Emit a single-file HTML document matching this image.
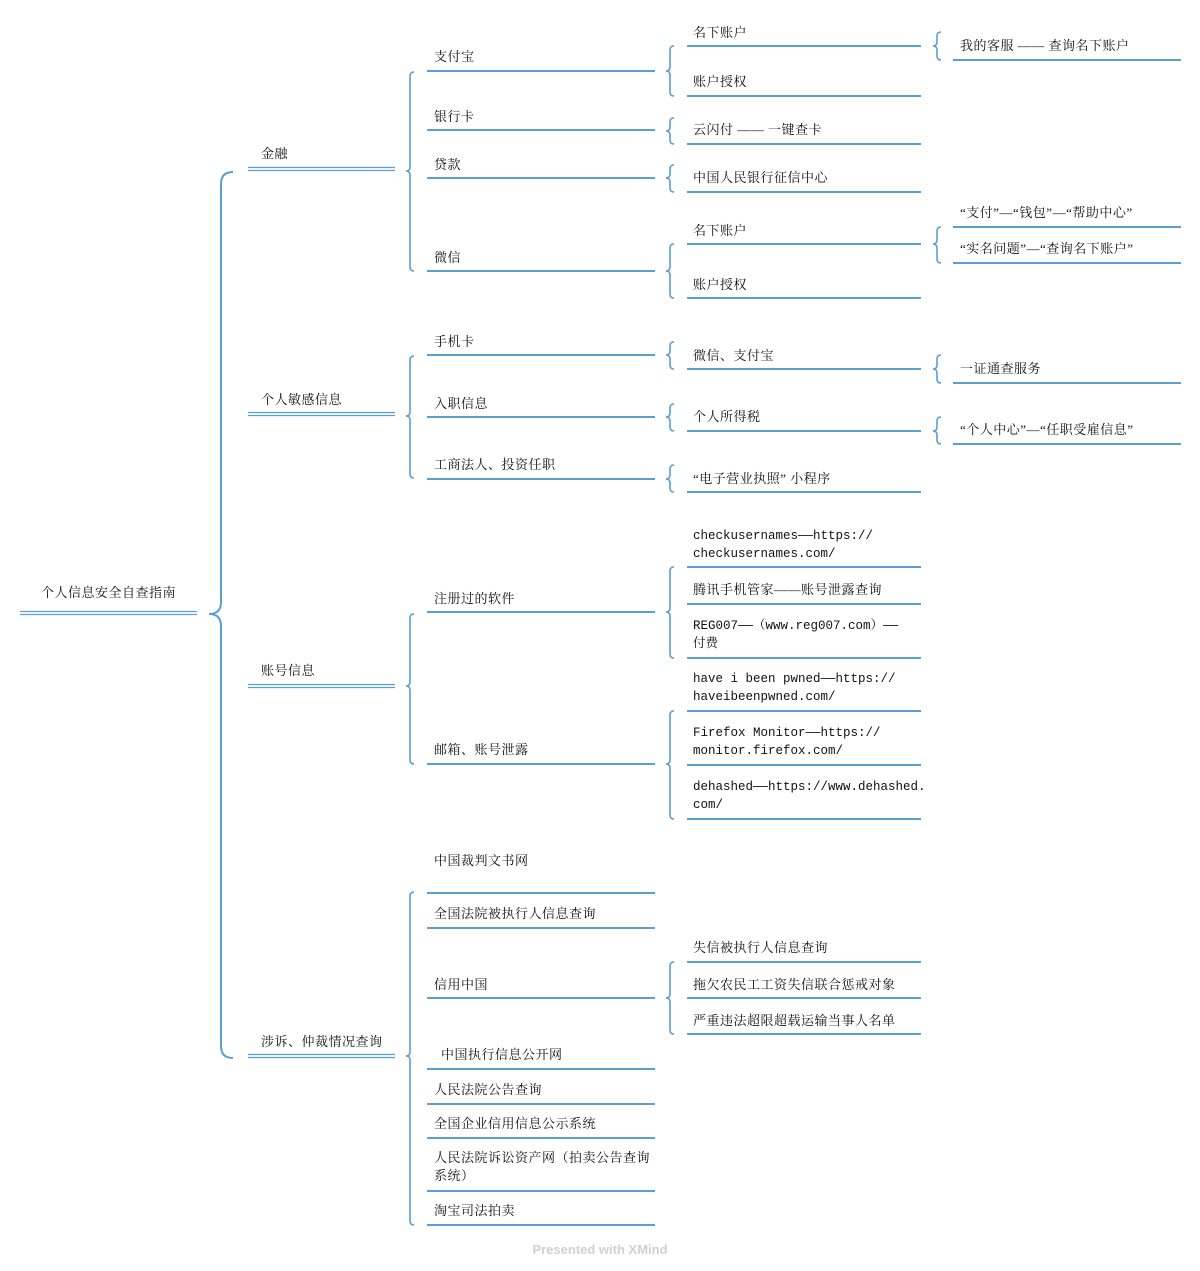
<!DOCTYPE html>
<html><head><meta charset="utf-8">
<style>
html,body{margin:0;padding:0;background:#fff;}
body{width:1200px;height:1271px;position:relative;overflow:hidden;font-family:"Liberation Serif","Noto Serif CJK SC",serif;font-size:13px;color:#111;}
.t{position:absolute;white-space:nowrap;letter-spacing:0.5px;line-height:18px;margin-top:1px;}
.m{font-family:"Liberation Mono","Noto Serif CJK SC",monospace;font-size:12.5px;letter-spacing:0;}
svg{position:absolute;left:0;top:0;}
.f{position:absolute;left:0;width:1200px;top:1242px;text-align:center;font-family:"Liberation Sans",sans-serif;font-size:13px;color:#d0d0d0;font-weight:bold;}
</style></head><body>
<svg id="s" width="1200" height="1271" xmlns="http://www.w3.org/2000/svg"></svg>
<div class="t" style="left:41px;top:583px">个人信息安全自查指南</div>
<div class="t" style="left:261px;top:144px">金融</div>
<div class="t" style="left:261px;top:390px">个人敏感信息</div>
<div class="t" style="left:261px;top:661px">账号信息</div>
<div class="t" style="left:261px;top:1032px">涉诉、仲裁情况查询</div>

<div class="t" style="left:434px;top:47px">支付宝</div>
<div class="t" style="left:434px;top:107px">银行卡</div>
<div class="t" style="left:434px;top:155px">贷款</div>
<div class="t" style="left:434px;top:248px">微信</div>
<div class="t" style="left:434px;top:332px">手机卡</div>
<div class="t" style="left:434px;top:394px">入职信息</div>
<div class="t" style="left:434px;top:455px">工商法人、投资任职</div>
<div class="t" style="left:434px;top:589px">注册过的软件</div>
<div class="t" style="left:434px;top:740px">邮箱、账号泄露</div>
<div class="t" style="left:434px;top:851px">中国裁判文书网</div>
<div class="t" style="left:434px;top:904px">全国法院被执行人信息查询</div>
<div class="t" style="left:434px;top:975px">信用中国</div>
<div class="t" style="left:441px;top:1045px">中国执行信息公开网</div>
<div class="t" style="left:434px;top:1080px">人民法院公告查询</div>
<div class="t" style="left:434px;top:1114px">全国企业信用信息公示系统</div>
<div class="t" style="left:434px;top:1148px">人民法院诉讼资产网（拍卖公告查询<br>系统）</div>
<div class="t" style="left:434px;top:1201px">淘宝司法拍卖</div>

<div class="t" style="left:693px;top:23px">名下账户</div>
<div class="t" style="left:693px;top:72px">账户授权</div>
<div class="t" style="left:693px;top:120px">云闪付 —— 一键查卡</div>
<div class="t" style="left:693px;top:168px">中国人民银行征信中心</div>
<div class="t" style="left:693px;top:221px">名下账户</div>
<div class="t" style="left:693px;top:275px">账户授权</div>
<div class="t" style="left:693px;top:346px">微信、支付宝</div>
<div class="t" style="left:693px;top:407px">个人所得税</div>
<div class="t" style="left:693px;top:469px">“电子营业执照” 小程序</div>
<div class="t m" style="left:693px;top:526px">checkusernames——https://<br>checkusernames.com/</div>
<div class="t" style="left:693px;top:580px">腾讯手机管家——账号泄露查询</div>
<div class="t m" style="left:693px;top:616px">REG007——（www.reg007.com）——<br>付费</div>
<div class="t m" style="left:693px;top:669px">have i been pwned——https://<br>haveibeenpwned.com/</div>
<div class="t m" style="left:693px;top:723px">Firefox Monitor——https://<br>monitor.firefox.com/</div>
<div class="t m" style="left:693px;top:777px">dehashed——https://www.dehashed.<br>com/</div>
<div class="t" style="left:693px;top:938px">失信被执行人信息查询</div>
<div class="t" style="left:693px;top:975px">拖欠农民工工资失信联合惩戒对象</div>
<div class="t" style="left:693px;top:1011px">严重违法超限超载运输当事人名单</div>

<div class="t" style="left:960px;top:36px">我的客服 —— 查询名下账户</div>
<div class="t" style="left:960px;top:203px">“支付”—“钱包”—“帮助中心”</div>
<div class="t" style="left:960px;top:239px">“实名问题”—“查询名下账户”</div>
<div class="t" style="left:960px;top:359px">一证通查服务</div>
<div class="t" style="left:960px;top:420px">“个人中心”—“任职受雇信息”</div>

<div class="f">Presented with XMind</div>
<script>
var c="#5a9fd4",h="";
function L(x1,x2,y,w){h+='<line x1="'+x1+'" x2="'+x2+'" y1="'+y+'" y2="'+y+'" stroke="'+c+'" stroke-width="'+(w||2)+'"/>';}
function D(x1,x2,y){L(x1,x2,y-1.5,1.3);L(x1,x2,y+1.5,1.3);}
function B(x,y1,y2,ym,r,w){ym=ym||(y1+y2)/2;r=r||4;
h+='<path d="M'+(x+r)+','+y1+' Q'+x+','+y1+' '+x+','+(y1+r)+' L'+x+','+(ym-r)+' Q'+x+','+ym+' '+(x-r)+','+ym+' Q'+x+','+ym+' '+x+','+(ym+r)+' L'+x+','+(y2-r)+' Q'+x+','+y2+' '+(x+r)+','+y2+'" fill="none" stroke="'+c+'" stroke-width="'+(w||1.6)+'"/>';}
D(20,197,613);
B(221,172,1058,614,12,2);
D(248,395,169);D(248,395,414);D(248,395,686);D(248,395,1056);
B(410,72,271,171);B(410,356,478,416);B(410,614,764,686);B(410,892,1225,1056);
[71,130,178,271,355,417,479,612,764,893,928,998,1069,1104,1138,1191,1225].forEach(function(y){L(427,655,y);});
[46,96,144,192,244,298,369,431,492,567,604,658,711,765,819,962,998,1034].forEach(function(y){L(687,921,y);});
B(670,46,96);B(670,118,144,131);B(670,165,192,178);B(670,244,298);B(670,342,369,355);B(670,404,431,417);B(670,465,492,479);B(670,567,658,612);B(670,711,819,764);B(670,962,1034,998);
[60,227,263,383,444].forEach(function(y){L(953,1181,y);});
B(937,32,60,46);B(937,227,263,244);B(937,355,383,369);B(937,417,444,431);
document.getElementById("s").innerHTML=h;
</script>
</body></html>
